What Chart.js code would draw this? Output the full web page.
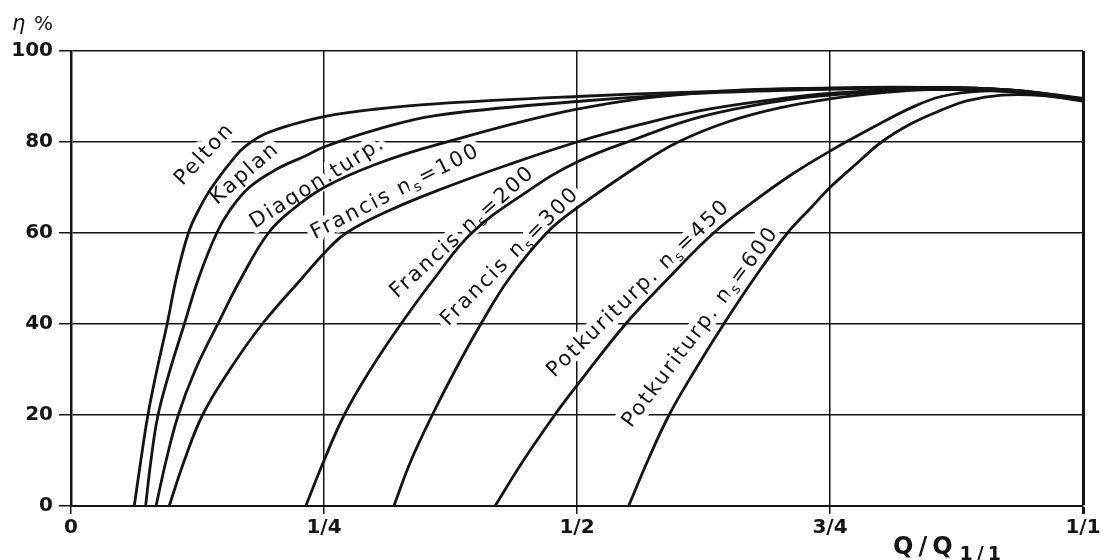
<!DOCTYPE html>
<html>
<head>
<meta charset="utf-8">
<script src="https://cdn.jsdelivr.net/npm/chart.js@4.4.1/dist/chart.umd.min.js"></script>
<style>
  html, body { margin: 0; padding: 0; background: #ffffff; }
  #wrap { width: 1117px; height: 560px; position: relative; }
</style>
</head>
<body>
<div id="wrap"><canvas id="c" width="1117" height="560"></canvas></div>
<script>
// ---- tick labels ----
const qTickValues = [0, 0.25, 0.5, 0.75, 1];
const qTickLabels = ['0', '1/4', '1/2', '3/4', '1/1'];
const etaTickValues = [0, 20, 40, 60, 80, 100];

// ---- series (Q/Q1/1 , efficiency %) ----
const peltonQ   = [0.0625, 0.069, 0.076, 0.085, 0.095, 0.104, 0.116, 0.126, 0.139, 0.165, 0.178, 0.192, 0.215, 0.250, 0.300, 0.360, 0.500, 0.620, 0.750, 0.850, 0.930, 1.000];
const peltonEta = [0, 10, 20, 30, 40, 50, 60, 65, 70, 77.5, 80, 81.8, 83.6, 85.6, 87.2, 88.4, 90.0, 91.0, 91.7, 92.0, 91.4, 89.6];

const kaplanQ   = [0.0737, 0.079, 0.086, 0.098, 0.112, 0.126, 0.144, 0.157, 0.176, 0.203, 0.232, 0.250, 0.300, 0.360, 0.500, 0.620, 0.750, 0.850, 0.930, 1.000];
const kaplanEta = [0, 10, 20, 30, 40, 50, 60, 65, 70, 74, 77, 78.9, 82.6, 85.8, 88.9, 90.7, 91.6, 92.0, 91.4, 89.4];

const diagonQ   = [0.084, 0.094, 0.106, 0.123, 0.145, 0.168, 0.195, 0.218, 0.250, 0.300, 0.360, 0.500, 0.620, 0.750, 0.850, 0.930, 1.000];
const diagonEta = [0, 10, 20, 30, 40, 50, 60, 65, 70, 75, 79.3, 87.2, 90.8, 91.9, 92.0, 91.3, 89.3];

const francis100Q   = [0.097, 0.112, 0.130, 0.157, 0.189, 0.228, 0.252, 0.272, 0.315, 0.370, 0.432, 0.500, 0.562, 0.622, 0.700, 0.750, 0.850, 0.930, 1.000];
const francis100Eta = [0, 10, 20, 30, 40, 50, 56, 60, 65, 70, 75, 80.0, 83.8, 86.9, 89.5, 90.7, 91.8, 91.4, 89.3];

const francis200Q   = [0.232, 0.250, 0.270, 0.296, 0.326, 0.359, 0.396, 0.450, 0.500, 0.562, 0.622, 0.700, 0.750, 0.850, 0.930, 1.000];
const francis200Eta = [0, 10, 20, 30, 40, 50, 60, 69, 75.6, 81.0, 85.5, 89.0, 90.3, 91.6, 91.3, 89.2];

const francis300Q   = [0.319, 0.336, 0.357, 0.380, 0.405, 0.433, 0.470, 0.500, 0.562, 0.600, 0.650, 0.700, 0.750, 0.800, 0.850, 0.920, 1.000];
const francis300Eta = [0, 10, 20, 30, 40, 50, 60, 65.5, 75.0, 80.0, 84.5, 87.5, 89.5, 90.8, 91.5, 91.2, 89.2];

const potkuri450Q   = [0.419, 0.447, 0.478, 0.500, 0.548, 0.590, 0.635, 0.675, 0.711, 0.750, 0.795, 0.830, 0.860, 0.900, 0.950, 1.000];
const potkuri450Eta = [0, 10, 20, 26.5, 40, 50, 60, 67, 72.7, 78, 83.5, 87.5, 90.0, 91.2, 90.8, 89.5];

const potkuri600Q   = [0.551, 0.570, 0.591, 0.617, 0.645, 0.675, 0.708, 0.731, 0.750, 0.775, 0.801, 0.830, 0.860, 0.886, 0.920, 0.960, 1.000];
const potkuri600Eta = [0, 10, 20, 30, 40, 50, 60, 65.5, 70, 75, 80, 84, 87, 89.1, 90.3, 90.2, 89.0];

const seriesNames = ['Pelton', 'Kaplan', 'Diagon.turp.', 'Francis ns=100', 'Francis ns=200', 'Francis ns=300', 'Potkuriturp. ns=450', 'Potkuriturp. ns=600'];
const seriesQ   = [peltonQ, kaplanQ, diagonQ, francis100Q, francis200Q, francis300Q, potkuri450Q, potkuri600Q];
const seriesEta = [peltonEta, kaplanEta, diagonEta, francis100Eta, francis200Eta, francis300Eta, potkuri450Eta, potkuri600Eta];

// ---- curve label annotations (anchor in data units, rotation in degrees) ----
const curveLabels = [
  { parts: [['Pelton', 0]], q: 0.131, eta: 77.5, angle: -47 },
  { parts: [['Kaplan', 0]], q: 0.171, eta: 73.3, angle: -41 },
  { parts: [['Diagon.turp.', 0]], q: 0.243, eta: 71.3, angle: -32 },
  { parts: [['Francis n', 0], ['s', 1], ['=100', 0]], q: 0.320, eta: 69.3, angle: -27 },
  { parts: [['Francis n', 0], ['s', 1], ['=200', 0]], q: 0.386, eta: 60.4, angle: -42 },
  { parts: [['Francis n', 0], ['s', 1], ['=300', 0]], q: 0.433, eta: 55.0, angle: -45 },
  { parts: [['Potkuriturp. n', 0], ['s', 1], ['=450', 0]], q: 0.560, eta: 48.0, angle: -44 },
  { parts: [['Potkuriturp. n', 0], ['s', 1], ['=600', 0]], q: 0.621, eta: 39.5, angle: -53 }
];

const INK = '#141414';
const FONT = '"DejaVu Sans", "Liberation Sans", sans-serif';

const datasets = seriesNames.map((name, i) => ({
  label: name,
  data: seriesQ[i].map((q, k) => ({ x: q, y: seriesEta[i][k] })),
  borderColor: INK,
  borderWidth: 2.8,
  pointRadius: 0,
  fill: false,
  tension: 0.4,
  showLine: true
}));

function drawLabel(ctx, lab, x, y) {
  const mainSize = 21, subSize = 14;
  ctx.save();
  ctx.translate(x, y);
  ctx.rotate(lab.angle * Math.PI / 180);
  ctx.letterSpacing = '2px';
  let total = 0;
  const widths = lab.parts.map(([t, s]) => {
    ctx.font = (s ? subSize : mainSize) + 'px ' + FONT;
    const w = ctx.measureText(t).width;
    total += w;
    return w;
  });
  let cx = -total / 2;
  lab.parts.forEach(([t, s], k) => {
    ctx.font = (s ? subSize : mainSize) + 'px ' + FONT;
    const by = s ? 11 : 7;
    ctx.lineJoin = 'round';
    ctx.strokeStyle = '#ffffff';
    ctx.lineWidth = 11;
    ctx.strokeText(t, cx, by);
    ctx.fillStyle = INK;
    ctx.fillText(t, cx, by);
    cx += widths[k];
  });
  ctx.restore();
}

const annotationPlugin = {
  id: 'annot',
  beforeDatasetsDraw(chart) {
    const ctx = chart.ctx;
    const xs = chart.scales.x, ys = chart.scales.y;
    ctx.save();
    ctx.textBaseline = 'alphabetic';
    ctx.textAlign = 'left';
    curveLabels.forEach(lab => {
      drawLabel(ctx, lab, xs.getPixelForValue(lab.q), ys.getPixelForValue(lab.eta));
    });
    ctx.restore();
  },
  afterDraw(chart) {
    const ctx = chart.ctx;
    ctx.save();
    ctx.fillStyle = INK;
    ctx.textBaseline = 'alphabetic';
    ctx.textAlign = 'left';
    // y axis title
    ctx.font = 'italic 21px ' + FONT;
    ctx.fillText('η', 12, 30);
    ctx.font = '20px ' + FONT;
    ctx.fillText('%', 34, 30);
    // x axis title Q/Q_{1/1}
    ctx.letterSpacing = '5px';
    ctx.font = 'bold 24px ' + FONT;
    ctx.fillText('Q/Q', 893, 554);
    const w = ctx.measureText('Q/Q').width;
    ctx.letterSpacing = '4px';
    ctx.font = 'bold 19px ' + FONT;
    ctx.fillText('1/1', 893 + w + 2, 560);
    ctx.restore();
  }
};

new Chart(document.getElementById('c'), {
  type: 'scatter',
  data: { datasets },
  plugins: [annotationPlugin],
  options: {
    responsive: false,
    animation: false,
    events: [],
    layout: { padding: { top: 51, right: 34, left: 0, bottom: 0 } },
    plugins: { legend: { display: false }, tooltip: { enabled: false }, title: { display: false } },
    scales: {
      x: {
        type: 'linear',
        min: 0, max: 1,
        afterBuildTicks(scale) { scale.ticks = qTickValues.map(v => ({ value: v })); },
        afterFit(scale) { scale.height = 54; },
        ticks: {
          autoSkip: false,
          maxRotation: 0,
          padding: 2,
          color: INK,
          font: { family: FONT, size: 20, weight: 'bold' },
          callback(value, index) { return qTickLabels[index]; }
        },
        grid: {
          color: INK,
          lineWidth: (c) => (c.tick && c.tick.value === 1 ? 3 : 1.5),
          tickLength: 8,
          drawTicks: true
        },
        border: { display: true, color: INK, width: 2 }
      },
      y: {
        type: 'linear',
        min: 0, max: 100,
        afterBuildTicks(scale) { scale.ticks = etaTickValues.map(v => ({ value: v })); },
        afterFit(scale) { scale.width = 71; },
        ticks: {
          padding: 6,
          color: INK,
          font: { family: FONT, size: 20, weight: 'bold' }
        },
        grid: {
          color: INK,
          lineWidth: 1.5,
          tickLength: 12,
          drawTicks: true
        },
        border: { display: true, color: INK, width: 2.5 }
      }
    }
  }
});
</script>
</body>
</html>
